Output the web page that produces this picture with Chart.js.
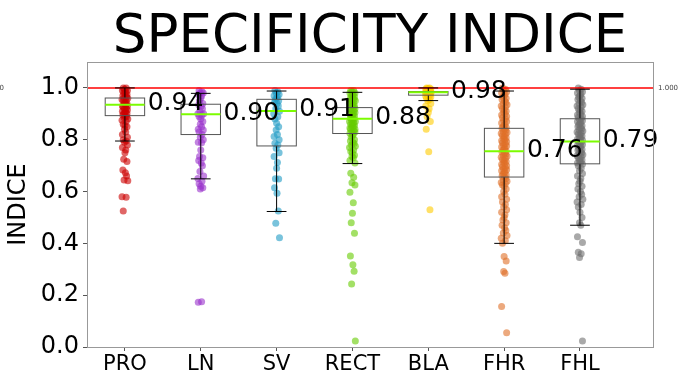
<!DOCTYPE html>
<html lang="en">
<head>
<meta charset="UTF-8" />
<title>Specificity indice</title>
<script src="https://cdn.jsdelivr.net/npm/chart.js"></script>
<style>
  body { margin: 0; background: #fff; }
  canvas { display: block; }
</style>
</head>
<body>
<canvas id="chart" width="679" height="375"></canvas>
<script>
// --- data ---
const categories = ["PRO", "LN", "SV", "RECT", "BLA", "FHR", "FHL"];

const valuesPRO = [1.0, 1.0, 0.995, 0.99, 0.99, 0.985, 0.98, 0.98, 0.975, 0.97, 0.97, 0.965, 0.96, 0.96,
  0.955, 0.95, 0.95, 0.945, 0.94, 0.94, 0.935, 0.93, 0.93, 0.925, 0.92, 0.92, 0.915, 0.91, 0.91, 0.905,
  0.90, 0.90, 0.895, 0.89, 0.89, 0.885, 0.88, 0.875, 0.87, 0.86, 0.855, 0.85, 0.84, 0.83, 0.82, 0.81,
  0.80, 0.795, 0.79, 0.78, 0.77, 0.76, 0.75, 0.725, 0.716, 0.683, 0.673, 0.66, 0.645, 0.642, 0.58, 0.578, 0.525];
const valuesLN = [0.99, 0.985, 0.98, 0.98, 0.975, 0.97, 0.96, 0.95, 0.94, 0.935, 0.93, 0.92, 0.91, 0.90, 0.90,
  0.895, 0.89, 0.88, 0.87, 0.86, 0.85, 0.84, 0.838, 0.83, 0.82, 0.81, 0.80, 0.79, 0.788, 0.76, 0.735, 0.73,
  0.72, 0.71, 0.70, 0.677, 0.66, 0.65, 0.64, 0.63, 0.62, 0.615, 0.61, 0.175, 0.173];
const valuesSV = [0.99, 0.985, 0.98, 0.975, 0.97, 0.965, 0.96, 0.955, 0.95, 0.945, 0.94, 0.93, 0.92, 0.91,
  0.90, 0.889, 0.88, 0.864, 0.85, 0.838, 0.82, 0.812, 0.80, 0.786, 0.78, 0.767, 0.75, 0.735, 0.712, 0.69,
  0.649, 0.648, 0.615, 0.593, 0.525, 0.478, 0.422];
const valuesRECT = [0.99, 0.99, 0.985, 0.98, 0.98, 0.975, 0.97, 0.97, 0.965, 0.96, 0.96, 0.955, 0.95, 0.95,
  0.945, 0.94, 0.94, 0.935, 0.93, 0.93, 0.925, 0.92, 0.92, 0.915, 0.91, 0.91, 0.905, 0.90, 0.90, 0.895,
  0.89, 0.89, 0.885, 0.88, 0.88, 0.875, 0.87, 0.87, 0.865, 0.86, 0.86, 0.855, 0.85, 0.85, 0.845, 0.84,
  0.84, 0.835, 0.83, 0.83, 0.825, 0.82, 0.815, 0.81, 0.80, 0.795, 0.79, 0.785, 0.78, 0.775, 0.77, 0.76,
  0.755, 0.75, 0.74, 0.735, 0.73, 0.72, 0.71, 0.671, 0.655, 0.634, 0.625, 0.597, 0.557, 0.516, 0.48,
  0.439, 0.351, 0.317, 0.292, 0.243, 0.023];
const valuesBLA = [1.0, 1.0, 0.998, 0.996, 0.995, 0.993, 0.99, 0.99, 0.988, 0.986, 0.985, 0.984, 0.983,
  0.982, 0.98, 0.98, 0.978, 0.976, 0.975, 0.973, 0.97, 0.968, 0.965, 0.96, 0.955, 0.95, 0.94, 0.93, 0.92,
  0.905, 0.889, 0.87, 0.84, 0.754, 0.53];
const valuesFHR = [1.0, 0.995, 0.99, 0.985, 0.98, 0.975, 0.97, 0.965, 0.96, 0.955, 0.95, 0.945, 0.94, 0.935,
  0.93, 0.925, 0.92, 0.915, 0.91, 0.905, 0.90, 0.895, 0.89, 0.885, 0.88, 0.875, 0.87, 0.865, 0.86, 0.855,
  0.85, 0.847, 0.843, 0.84, 0.836, 0.832, 0.828, 0.824, 0.82, 0.816, 0.812, 0.808, 0.804, 0.80, 0.796,
  0.792, 0.788, 0.784, 0.78, 0.776, 0.772, 0.768, 0.764, 0.76, 0.756, 0.752, 0.748, 0.744, 0.74, 0.736,
  0.732, 0.728, 0.724, 0.72, 0.716, 0.712, 0.708, 0.704, 0.70, 0.696, 0.692, 0.688, 0.684, 0.68, 0.676,
  0.672, 0.668, 0.664, 0.66, 0.656, 0.65, 0.645, 0.64, 0.635, 0.63, 0.625, 0.62, 0.61, 0.60, 0.59, 0.58,
  0.57, 0.56, 0.55, 0.54, 0.53, 0.52, 0.51, 0.50, 0.49, 0.48, 0.47, 0.46, 0.45, 0.44, 0.43, 0.42, 0.41,
  0.40, 0.349, 0.332, 0.291, 0.285, 0.156, 0.055];
const valuesFHL = [1.0, 0.995, 0.99, 0.985, 0.98, 0.975, 0.97, 0.965, 0.96, 0.955, 0.95, 0.945, 0.94, 0.935,
  0.93, 0.925, 0.92, 0.915, 0.91, 0.905, 0.90, 0.895, 0.89, 0.886, 0.882, 0.878, 0.874, 0.87, 0.866, 0.862,
  0.858, 0.854, 0.85, 0.846, 0.842, 0.838, 0.834, 0.83, 0.826, 0.822, 0.818, 0.814, 0.81, 0.806, 0.802,
  0.798, 0.794, 0.79, 0.786, 0.782, 0.778, 0.774, 0.77, 0.766, 0.762, 0.758, 0.754, 0.75, 0.746, 0.742,
  0.738, 0.734, 0.73, 0.726, 0.722, 0.718, 0.714, 0.71, 0.705, 0.70, 0.69, 0.68, 0.67, 0.66, 0.65, 0.64,
  0.63, 0.62, 0.61, 0.60, 0.59, 0.58, 0.57, 0.56, 0.55, 0.54, 0.52, 0.50, 0.48, 0.47, 0.426, 0.403, 0.366,
  0.36, 0.345, 0.023];

// box statistics
const q1 = [0.893, 0.820, 0.776, 0.824, 0.972, 0.656, 0.707];
const medians = [0.935, 0.898, 0.911, 0.881, 0.983, 0.756, 0.793];
const q3 = [0.961, 0.937, 0.956, 0.924, 0.986, 0.844, 0.881];
const whiskerLow = [0.795, 0.649, 0.523, 0.708, 0.951, 0.400, 0.470];
const whiskerHigh = [1.0, 0.979, 0.988, 0.983, 1.0, 0.988, 0.995];
const medianLabels = ["0.94", "0.90", "0.91", "0.88", "0.98", "0.76", "0.79"];
const refLine = 1.0;

// --- styles ---
const allValues = [valuesPRO, valuesLN, valuesSV, valuesRECT, valuesBLA, valuesFHR, valuesFHL];
const colors = ["204,0,0", "153,50,204", "31,155,196", "102,204,0", "255,204,0", "224,112,40", "112,112,112"];
// fixed horizontal spread so points don't stack on one line
const jitter = [-0.022, 0.016, -0.006, 0.033, -0.033, 0.011, 0.0, -0.016, 0.027, -0.027, 0.006, 0.022,
  -0.011, 0.038, -0.038, 0.016, -0.022, 0.0, 0.027, -0.006, 0.011, -0.033, 0.033];
const FONT = "'DejaVu Sans', sans-serif";

const datasets = categories.map((name, i) => ({
  label: name,
  data: allValues[i].map((v, j) => ({ x: i + 1 + jitter[j % jitter.length], y: v })),
  backgroundColor: "rgba(" + colors[i] + ",0.6)",
  borderWidth: 0,
  pointRadius: 3.5,
}));

function line(ctx, x1, y1, x2, y2) {
  ctx.beginPath();
  ctx.moveTo(x1, y1);
  ctx.lineTo(x2, y2);
  ctx.stroke();
}

// boxes, reference line, labels, frame and title
const boxPlugin = {
  id: "boxes",
  afterDatasetsDraw(chart) {
    const { ctx, chartArea: a } = chart;
    const x = chart.scales.x, y = chart.scales.y;
    ctx.save();

    const yr = y.getPixelForValue(refLine);
    ctx.strokeStyle = "#ff0000";
    ctx.lineWidth = 1.5;
    line(ctx, a.left, yr, a.right, yr);

    categories.forEach((name, i) => {
      const cx = x.getPixelForValue(i + 1);
      const hw = x.getPixelForValue(i + 1.26) - cx;
      const cw = x.getPixelForValue(i + 1.13) - cx;
      const yq1 = y.getPixelForValue(q1[i]);
      const yq3 = y.getPixelForValue(q3[i]);
      const ylo = y.getPixelForValue(whiskerLow[i]);
      const yhi = y.getPixelForValue(whiskerHigh[i]);
      const ym = y.getPixelForValue(medians[i]);

      ctx.strokeStyle = "#000";
      ctx.lineWidth = 1;
      line(ctx, cx, yq1, cx, ylo);
      line(ctx, cx, yq3, cx, yhi);
      line(ctx, cx - cw, ylo, cx + cw, ylo);
      line(ctx, cx - cw, yhi, cx + cw, yhi);

      ctx.strokeStyle = "#555";
      ctx.strokeRect(cx - hw, yq3, hw * 2, yq1 - yq3);

      ctx.strokeStyle = "#7cfc00";
      ctx.lineWidth = 2;
      line(ctx, cx - hw, ym, cx + hw, ym);
    });

    ctx.fillStyle = "#000";
    ctx.font = "25px " + FONT;
    ctx.textAlign = "left";
    ctx.textBaseline = "middle";
    categories.forEach((name, i) => {
      ctx.fillText(medianLabels[i], x.getPixelForValue(i + 1.3), y.getPixelForValue(medians[i]) - 1);
    });

    ctx.strokeStyle = "#999";
    ctx.lineWidth = 1;
    ctx.strokeRect(a.left + 0.5, a.top + 0.5, a.right - a.left, a.bottom - a.top);

    ctx.font = "53px " + FONT;
    ctx.textAlign = "center";
    ctx.textBaseline = "alphabetic";
    ctx.fillText("SPECIFICITY INDICE", (a.left + a.right) / 2, 52);

    ctx.font = "7px " + FONT;
    ctx.fillStyle = "#444";
    ctx.textBaseline = "middle";
    ctx.textAlign = "left";
    ctx.fillText("1.000", a.right + 5, yr);
    ctx.textAlign = "right";
    ctx.fillText("1.000", 4, yr);
    ctx.restore();
  },
};

new Chart(document.getElementById("chart"), {
  type: "scatter",
  data: { datasets },
  plugins: [boxPlugin],
  options: {
    responsive: false,
    animation: false,
    layout: { padding: { top: 62, right: 26, bottom: 0, left: 0 } },
    plugins: { legend: { display: false }, tooltip: { enabled: false } },
    scales: {
      x: {
        type: "linear",
        min: 0.5,
        max: 7.963,
        afterFit(scale) { scale.height = 28; },
        afterBuildTicks(scale) {
          scale.ticks = categories.map((c, i) => ({ value: i + 1 }));
        },
        ticks: {
          callback: (v) => categories[v - 1],
          font: { family: FONT, size: 21 },
          color: "#000",
          padding: 1,
          maxRotation: 0,
          autoSkip: false,
        },
        grid: { drawOnChartArea: false, drawTicks: true, tickLength: 4, color: "#555" },
        border: { display: false },
      },
      y: {
        min: 0,
        max: 1.1,
        afterFit(scale) { scale.width = 87; },
        ticks: {
          stepSize: 0.2,
          includeBounds: false,
          callback: (v) => v.toFixed(1),
          font: { family: FONT, size: 24 },
          color: "#000",
          padding: 4,
        },
        title: {
          display: true,
          text: "INDICE",
          font: { family: FONT, size: 24 },
          color: "#000",
          padding: { top: 4, bottom: 0 },
        },
        grid: { drawOnChartArea: false, drawTicks: true, tickLength: 4, color: "#555" },
        border: { display: false },
      },
    },
  },
});
</script>
</body>
</html>
